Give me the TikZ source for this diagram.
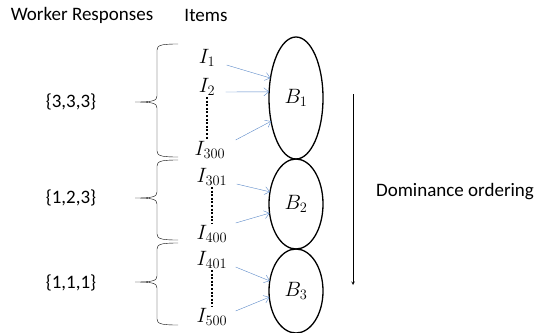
\documentclass[tikz,border=0pt]{standalone}
\usepackage{amsmath}
\usepackage{fontspec}
\setmainfont{Carlito}
\usetikzlibrary{positioning,shapes.geometric,arrows.meta}

\definecolor{itemblue}{RGB}{91,137,200}

% curly brace opening to the right: top y, bottom y, tip y
\newcommand{\respbrace}[3]{%
  \draw[bracestyle] (178,#1) .. controls (162,#1) and (157,#1+1) .. (157,#1+6)
    -- (157,#3-6) .. controls (157,#3-1) and (152,#3) .. (135,#3)
    .. controls (152,#3) and (157,#3+1) .. (157,#3+6)
    -- (157,#2-6) .. controls (157,#2-1) and (162,#2) .. (178,#2);}

\begin{document}
\begin{tikzpicture}[x=1pt,y=-1pt,>=stealth,semithick,
    bucket/.style={ellipse,draw,line width=1.3pt,inner sep=0pt,outer sep=0pt,
      minimum width=54pt,font=\fontsize{21}{23}\selectfont},
    item/.style={inner sep=1pt,font=\fontsize{21}{23}\selectfont},
    txt/.style={font=\fontsize{19}{22}\selectfont},
    tobucket/.style={-{Straight Barb[length=5pt,width=8pt]},itemblue,thin},
    itemdots/.style={line width=2pt,dash pattern=on 2pt off 1.6pt},
    bracestyle/.style={thin}]
  \useasboundingbox (0,0) rectangle (537,332);

  % headings
  \node[txt] (wr) at (82,15) {Worker Responses};
  \node[txt] (it) at (206,15) {Items};

  % buckets
  \node[bucket,minimum height=122pt] (B1) at (296,98) {$B_1$};
  \node[bucket,minimum height=90pt] (B2) [below=0pt of B1] {$B_2$};
  \node[bucket,minimum height=84pt] (B3) [below=0pt of B2] {$B_3$};

  % items
  \node[item] (I1) at (207,58) {$I_1$};
  \node[item] (I2) at (207,87) {$I_2$};
  \node[item] (I300) at (210,150) {$I_{300}$};
  \node[item] (I301) at (212,177) {$I_{301}$};
  \node[item] (I400) at (212,234) {$I_{400}$};
  \node[item] (I401) at (212,260) {$I_{401}$};
  \node[item] (I500) at (212,317) {$I_{500}$};

  \draw[itemdots] (I2.south) -- (I2.south |- I300.north);
  \draw[itemdots] (I301.south) -- (I301.south |- I400.north);
  \draw[itemdots] (I401.south) -- (I401.south |- I500.north);

  \path[tobucket]
    ([xshift=10pt,yshift=-7pt]I1.east) edge (B1.142)
    ([xshift=9pt,yshift=-5pt]I2.east) edge (B1.167)
    ([xshift=9pt,yshift=10pt]I300.east) edge (B1.223)
    ([xshift=8pt,yshift=-7pt]I301.east) edge (B2.155)
    ([xshift=7pt,yshift=11pt]I400.east) edge (B2.199)
    ([xshift=7pt,yshift=-7pt]I401.east) edge (B3.159)
    ([xshift=7pt,yshift=6pt]I500.east) edge (B3.193);

  % worker responses
  \respbrace{44}{157}{102}
  \respbrace{160}{240}{198}
  \respbrace{243}{325}{282}
  \node[txt] (r1) at (71,102) {\{3,3,3\}};
  \node[txt] (r2) at (71,198) {\{1,2,3\}};
  \node[txt] (r3) at (71,283) {\{1,1,1\}};

  % ordering
  \coordinate (domtop) at (353,94);
  \coordinate (dombot) at (353,285);
  \draw[->] (domtop) -- (dombot);
  \node[txt] (dom) at (455,192) {Dominance ordering};
\end{tikzpicture}
\end{document}
